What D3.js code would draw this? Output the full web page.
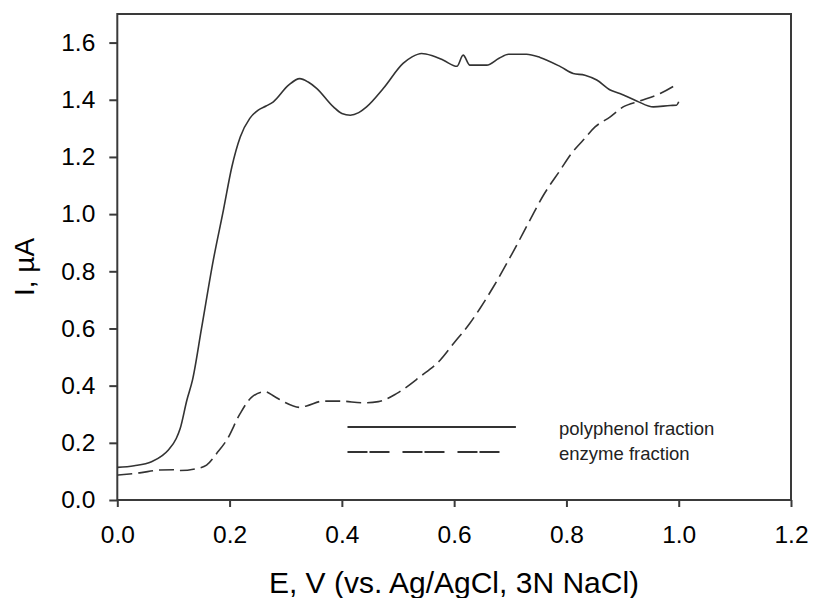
<!DOCTYPE html>
<html>
<head>
<meta charset="utf-8">
<script src="https://cdn.jsdelivr.net/npm/d3@7"></script>
<style>
  html, body { margin: 0; padding: 0; background: #fff; }
  svg { display: block; }
  text { font-family: Arial, "Liberation Sans", sans-serif; }
</style>
</head>
<body>
<svg id="chart" width="813" height="598"></svg>
<script>
// ---- data ----
const xTicks = [0.0, 0.2, 0.4, 0.6, 0.8, 1.0, 1.2];
const yTicks = [0.0, 0.2, 0.4, 0.6, 0.8, 1.0, 1.2, 1.4, 1.6];

const polyE = [0.000,0.030,0.061,0.080,0.091,0.105,0.112,0.124,0.134,0.150,0.171,0.189,0.204,0.219,0.236,0.251,0.265,0.278,0.305,0.325,0.340,0.355,0.385,0.400,0.415,0.430,0.444,0.474,0.509,0.525,0.542,0.560,0.581,0.605,0.616,0.628,0.658,0.680,0.697,0.729,0.753,0.790,0.812,0.833,0.854,0.878,0.895,0.925,0.955,0.985,0.996,1.000];
const polyI = [0.114,0.120,0.134,0.155,0.175,0.215,0.250,0.350,0.420,0.600,0.839,1.014,1.165,1.270,1.335,1.364,1.378,1.393,1.451,1.474,1.462,1.440,1.375,1.352,1.346,1.355,1.375,1.440,1.527,1.550,1.562,1.555,1.538,1.517,1.556,1.521,1.521,1.545,1.559,1.559,1.548,1.515,1.492,1.486,1.469,1.434,1.422,1.396,1.375,1.380,1.381,1.393];

const enzE = [0.000,0.040,0.076,0.100,0.112,0.144,0.159,0.177,0.195,0.219,0.239,0.263,0.280,0.296,0.325,0.337,0.367,0.397,0.438,0.465,0.498,0.539,0.575,0.600,0.628,0.646,0.670,0.705,0.735,0.759,0.789,0.809,0.830,0.851,0.878,0.901,0.931,0.967,0.999];
const enzI = [0.087,0.095,0.105,0.106,0.103,0.111,0.122,0.163,0.210,0.303,0.359,0.379,0.362,0.344,0.324,0.329,0.346,0.346,0.340,0.344,0.373,0.431,0.489,0.550,0.618,0.670,0.746,0.868,0.979,1.066,1.154,1.212,1.259,1.305,1.340,1.375,1.396,1.422,1.457];

const seriesNames = ["polyphenol fraction", "enzyme fraction"];
const xTitle = "E, V (vs. Ag/AgCl, 3N NaCl)";
const yTitle = "I, \u00B5A";

// ---- layout ----
const svg = d3.select("#chart");
const L = 117.3, R = 791, T = 14, B = 500;
const x = d3.scaleLinear().domain([0, 1.2]).range([L, R]);
const y = d3.scaleLinear().domain([0, 1.7]).range([B, T]);

const axisColor = "#3a3a3a";
const lineColor = "#333";
const tickFont = 24.5;

// frame
svg.append("rect")
  .attr("x", L).attr("y", T).attr("width", R - L).attr("height", B - T)
  .attr("fill", "none").attr("stroke", axisColor).attr("stroke-width", 2);

// x axis
const gx = svg.append("g").attr("transform", `translate(0,${B})`)
  .call(d3.axisBottom(x).tickValues(xTicks).tickFormat(d3.format(".1f")).tickSize(7).tickSizeOuter(0).tickPadding(19));
gx.select(".domain").remove();
gx.selectAll(".tick line").attr("stroke", axisColor).attr("stroke-width", 2);
gx.selectAll(".tick text").attr("font-size", tickFont).attr("fill", "#000")
  .style("font-family", "Arial, 'Liberation Sans', sans-serif");

// y axis
const gy = svg.append("g").attr("transform", `translate(${L},0)`)
  .call(d3.axisLeft(y).tickValues(yTicks).tickFormat(d3.format(".1f")).tickSize(8).tickSizeOuter(0).tickPadding(14));
gy.select(".domain").remove();
gy.selectAll(".tick line").attr("stroke", axisColor).attr("stroke-width", 2);
gy.selectAll(".tick text").attr("font-size", tickFont).attr("fill", "#000")
  .style("font-family", "Arial, 'Liberation Sans', sans-serif");

// curves
const line = d3.line().x(d => x(d[0])).y(d => y(d[1])).curve(d3.curveMonotoneX);
const polyData = polyE.map((e, i) => [e, polyI[i]]);
const enzData = enzE.map((e, i) => [e, enzI[i]]);

svg.append("path").datum(polyData)
  .attr("d", line).attr("fill", "none").attr("stroke", lineColor).attr("stroke-width", 1.6);
svg.append("path").datum(enzData)
  .attr("d", line).attr("fill", "none").attr("stroke", lineColor).attr("stroke-width", 1.6)
  .attr("stroke-dasharray", "15,6");

// legend
const lg = svg.append("g");
const legX1 = x(0.41), legX2 = x(0.71);
const legRows = [
  { name: seriesNames[0], dash: null, yy: 427 },
  { name: seriesNames[1], dash: "20,2,20,13", yy: 452 }
];
legRows.forEach(r => {
  const ln = lg.append("line").attr("x1", legX1).attr("x2", r.dash ? legX2 - 12 : legX2)
    .attr("y1", r.yy).attr("y2", r.yy).attr("stroke", lineColor).attr("stroke-width", 2);
  if (r.dash) ln.attr("stroke-dasharray", r.dash);
  lg.append("text").attr("x", 559).attr("y", r.yy + 8).attr("font-size", 18.5)
    .attr("fill", "#222").text(r.name);
});

// axis titles
svg.append("text").attr("x", 454).attr("y", 593).attr("text-anchor", "middle")
  .attr("font-size", 30).attr("fill", "#000").text(xTitle);
svg.append("text").attr("transform", `translate(34,267) rotate(-90)`).attr("text-anchor", "middle")
  .attr("font-size", 28).attr("fill", "#000").text(yTitle);
</script>
</body>
</html>
